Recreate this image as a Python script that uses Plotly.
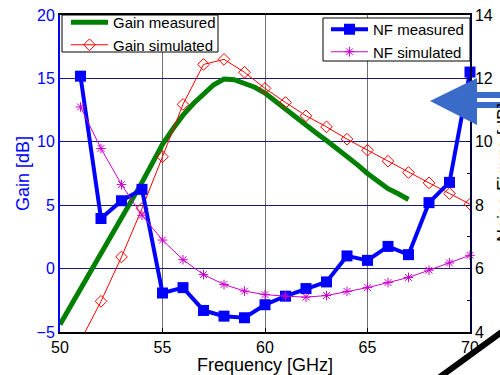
import plotly.graph_objects as go

# Frequency grid for the simulated / spot-measured data (GHz)
freq = [51, 52, 53, 54, 55, 56, 57, 58, 59, 60,
        61, 62, 63, 64, 65, 66, 67, 68, 69, 70]

# Measured gain sweep (GHz, dB)
freq_sweep = [50, 50.5, 51, 51.5, 52, 52.5, 53, 53.5, 54, 54.5,
              55, 55.5, 56, 56.5, 57, 57.5, 58, 58.5, 59, 59.5,
              60, 60.5, 61, 61.5, 62, 62.5, 63, 63.5, 64, 64.5,
              65, 65.5, 66, 66.5, 67]
gain_meas = [-4.4, -3.0, -1.6, -0.2, 1.1, 2.5, 3.9, 5.3, 6.8, 8.3,
             9.8, 11.0, 12.1, 13.0, 13.7, 14.5, 14.95, 14.9, 14.6, 14.3,
             13.85, 13.2, 12.6, 12.0, 11.35, 10.7, 10.1, 9.5, 8.85, 8.2,
             7.5, 6.9, 6.3, 5.9, 5.45]

gain_sim = [-5.7, -2.58, 0.92, 4.74, 8.82, 12.95, 16.1, 16.5, 15.48, 14.21,
            13.1, 12.05, 11.18, 10.21, 9.34, 8.47, 7.58, 6.76, 5.92, 5.08]

nf_meas = [12.07, 7.58, 8.14, 8.5, 5.23, 5.4, 4.68, 4.5, 4.45, 4.86,
           5.13, 5.37, 5.58, 6.4, 6.26, 6.7, 6.44, 8.08, 8.72, 12.2]

nf_sim = [11.1, 9.79, 8.65, 7.68, 6.9, 6.28, 5.81, 5.5, 5.29, 5.18,
          5.13, 5.1, 5.15, 5.28, 5.4, 5.56, 5.72, 5.95, 6.18, 6.42]

gain_ticks = [-5, 0, 5, 10, 15, 20]
nf_ticks = [4, 6, 8, 10, 12, 14]
freq_ticks = [50, 55, 60, 65, 70]

FONT = "Liberation Sans, Arial, sans-serif"

fig = go.Figure()

fig.add_trace(go.Scatter(
    x=freq_sweep, y=gain_meas, mode="lines", name="Gain measured",
    line=dict(color="#008000", width=5), legend="legend", yaxis="y"))
fig.add_trace(go.Scatter(
    x=freq, y=gain_sim, mode="lines+markers", name="Gain simulated",
    line=dict(color="#FF0000", width=1),
    marker=dict(symbol="diamond-open", size=9, color="#FF0000",
                line=dict(width=1)),
    legend="legend", yaxis="y"))
fig.add_trace(go.Scatter(
    x=freq, y=nf_meas, mode="lines+markers", name="NF measured",
    line=dict(color="#0000FF", width=4),
    marker=dict(symbol="square", size=11, color="#0000FF"),
    legend="legend2", yaxis="y2", cliponaxis=False))
fig.add_trace(go.Scatter(
    x=freq, y=nf_sim, mode="lines+markers", name="NF simulated",
    line=dict(color="#CC00CC", width=1),
    marker=dict(symbol="asterisk-open", size=8, color="#CC00CC",
                line=dict(width=1, color="#CC00CC")),
    legend="legend2", yaxis="y2", cliponaxis=False))

# plot area in pixels: left 60, right 470, top 15, bottom 332
L, R, T, B = 60, 470, 15, 332


def px(x):
    return (x - L) / (R - L)


def py(y):
    return (B - y) / (B - T)


arrow_blue = "#3A6BC8"
shapes = [
    # legend frames (white boxes with black border)
    dict(type="rect", xref="paper", yref="paper", layer="above",
         x0=px(62), x1=px(218), y0=py(52), y1=py(15),
         fillcolor="white", line=dict(color="black", width=1)),
    dict(type="rect", xref="paper", yref="paper", layer="above",
         x0=px(323), x1=px(470), y0=py(61), y1=py(18),
         fillcolor="white", line=dict(color="black", width=1)),
    # block arrow pointing at the NF axis
    dict(type="path", xref="paper", yref="paper", layer="above",
         path=f"M {px(430)} {py(101)} L {px(477)} {py(78)} L {px(477)} {py(125)} Z",
         fillcolor=arrow_blue, line=dict(width=0)),
    dict(type="rect", xref="paper", yref="paper", layer="above",
         x0=px(476), x1=px(502), y0=py(92), y1=py(98),
         fillcolor=arrow_blue, line=dict(width=0)),
    dict(type="rect", xref="paper", yref="paper", layer="above",
         x0=px(476), x1=px(502), y0=py(102), y1=py(108),
         fillcolor=arrow_blue, line=dict(width=0)),
    # black pointer line in the lower-right corner
    dict(type="line", xref="paper", yref="paper", layer="above",
         x0=px(440), y0=py(377), x1=px(503), y1=py(331),
         line=dict(color="black", width=6)),
]

annotations = [
    dict(text="Noise Figure [dB]", xref="paper", yref="paper",
         x=px(504), y=py(173), textangle=-90, showarrow=False,
         xanchor="center", yanchor="middle",
         font=dict(family=FONT, size=18, color="black")),
]

fig.update_layout(
    width=500, height=375,
    margin=dict(l=L, r=500 - R, t=T, b=375 - B, autoexpand=False),
    paper_bgcolor="white", plot_bgcolor="white",
    font=dict(family=FONT, size=15, color="black"),
    showlegend=True,
    shapes=shapes,
    annotations=annotations,
    legend=dict(
        x=px(66), y=py(6), xanchor="left", yanchor="top",
        bgcolor="rgba(0,0,0,0)", borderwidth=0,
        font=dict(family=FONT, size=15, color="black"),
        itemwidth=37, tracegroupgap=0),
    legend2=dict(
        x=px(326), y=py(13), xanchor="left", yanchor="top",
        bgcolor="rgba(0,0,0,0)", borderwidth=0,
        font=dict(family=FONT, size=15, color="black"),
        itemwidth=37, tracegroupgap=0),
    xaxis=dict(
        range=[50, 70], tickvals=freq_ticks, automargin=False,
        ticks="inside", ticklen=4, tickcolor="black",
        showline=True, linecolor="black", linewidth=2, mirror=True,
        showgrid=True, gridcolor="#707070", gridwidth=1,
        zeroline=False,
        tickfont=dict(family=FONT, size=16, color="black"),
        title=dict(text="Frequency [GHz]", standoff=9,
                   font=dict(family=FONT, size=18, color="black"))),
    yaxis=dict(
        range=[-5, 20], tickvals=gain_ticks, automargin=False,
        ticks="inside", ticklen=4, tickcolor="#0000FF",
        showline=True, linecolor="#0000FF", linewidth=2,
        showgrid=True, gridcolor="#1A1A80", gridwidth=1,
        zeroline=False,
        tickfont=dict(family=FONT, size=16, color="#0000FF"),
        title=dict(text="Gain [dB]", standoff=2,
                   font=dict(family=FONT, size=18, color="#0000FF"))),
    yaxis2=dict(
        range=[4, 14], tickvals=nf_ticks, overlaying="y", side="right",
        automargin=False,
        ticks="inside", ticklen=4, tickcolor="#000040",
        minor=dict(dtick=1, ticks="inside", ticklen=3, tickcolor="#000040"),
        showline=True, linecolor="#000040", linewidth=1.5,
        showgrid=False, zeroline=False,
        tickfont=dict(family=FONT, size=16, color="black")),
)

fig.write_html("out.html")
